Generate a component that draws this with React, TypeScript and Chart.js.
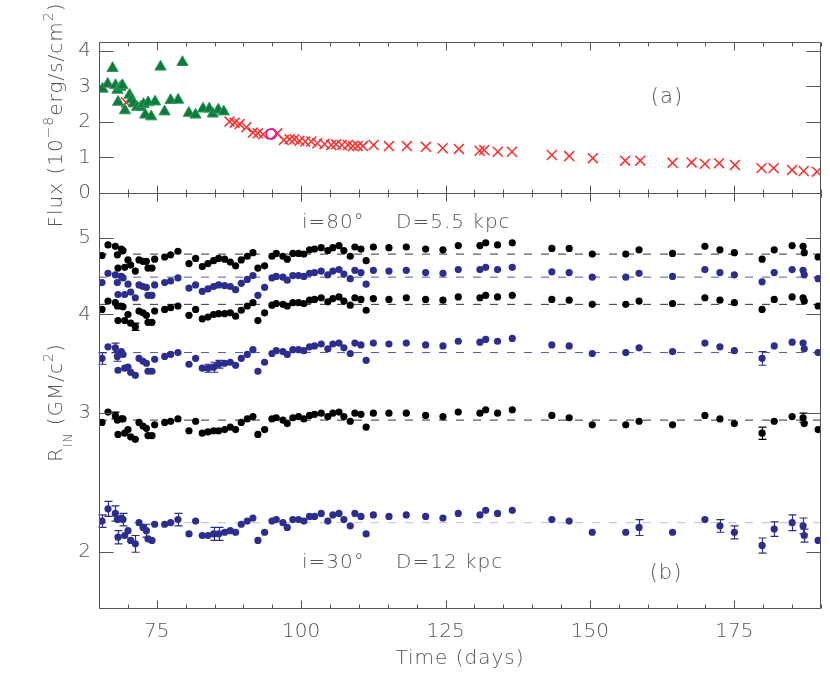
import React, { useEffect, useRef } from 'react';
import { Chart, registerables } from 'chart.js';
Chart.register(...registerables);

const FONT = "'DejaVu Sans', 'Liberation Sans', sans-serif";
const TEXT = '#555555';
const AXIS = '#555555';
const BLACK = '#000000';
const BLUE = '#2b2e8c';

// ---------- panel (a): flux ----------
const triT = [65.6, 66.5, 67.35, 67.85, 68.2, 68.3, 68.7, 69.05, 69.5, 70.3, 70.65, 71.0, 71.6, 72.2, 72.7, 73.0, 73.5, 74.05, 74.7, 75.65, 76.35, 77.4, 78.7, 79.45, 80.55, 81.7, 83.0, 84.1, 84.7, 85.65, 86.6];
const triF = [2.93, 3.07, 3.51, 3.03, 2.9, 2.56, 2.98, 3.03, 2.32, 2.76, 2.64, 2.52, 2.42, 2.42, 2.5, 2.2, 2.55, 2.15, 2.57, 3.55, 2.29, 2.61, 2.62, 3.68, 2.25, 2.2, 2.37, 2.37, 2.23, 2.34, 2.29];
const crossT = [69.7, 87.6, 88.5, 89.35, 90.5, 91.65, 92.5, 93.4, 95.85, 97.0, 98.0, 98.85, 99.7, 100.7, 101.75, 102.8, 104.05, 105.2, 106.05, 107.05, 108.1, 108.95, 109.8, 110.7, 112.55, 115.2, 118.3, 121.6, 124.5, 127.3, 130.9, 131.7, 134.05, 136.5, 143.4, 146.4, 150.5, 156.1, 158.7, 164.3, 167.6, 169.9, 172.35, 175.1, 179.7, 181.8, 185.0, 187.0, 189.3];
const crossF = [2.55, 2.01, 1.98, 1.94, 1.85, 1.70, 1.68, 1.65, 1.68, 1.49, 1.51, 1.51, 1.47, 1.45, 1.45, 1.40, 1.38, 1.35, 1.37, 1.35, 1.35, 1.32, 1.32, 1.32, 1.35, 1.32, 1.32, 1.30, 1.26, 1.24, 1.19, 1.21, 1.16, 1.16, 1.07, 1.04, 0.98, 0.91, 0.91, 0.85, 0.86, 0.82, 0.84, 0.79, 0.70, 0.70, 0.65, 0.62, 0.60];
const circT = [94.82];
const circF = [1.66];
const fluxTicks = [0, 1, 2, 3, 4];

// ---------- panel (b): inner radius ----------
const times = [65.52, 66.56, 67.83, 68.18, 68.29, 68.87, 69.16, 69.45, 70.02, 70.48, 71.29, 71.93, 72.62, 73.2, 73.48, 74.17, 74.64,
  76.37, 77.4, 78.67, 80.58, 81.73, 82.88, 83.86, 84.84, 85.71, 86.75, 87.73, 88.65, 89.63, 90.67, 91.65, 92.51, 93.67, 94.94, 95.69, 96.84, 97.59, 98.57, 99.55, 100.47, 101.45, 102.32, 103.47, 104.62, 105.49, 106.55, 107.4, 108.5, 109.3,
  110.35, 111.25, 112.5, 115.2, 118.2, 121.55, 124.55, 127.2, 130.95, 131.95, 134.0, 136.55, 143.4, 146.4, 150.4, 156.2, 158.5, 164.3, 169.9, 172.5, 175.0, 179.8, 181.9, 185.0, 186.9, 187.1, 189.5];

const row1 = [4.75, 4.90, 4.88, 4.76, 4.58, 4.84, 4.82, 4.59, 4.69, 4.62, 4.54, 4.69, 4.67, 4.67, 4.58, 4.58, 4.70,
  4.73, 4.76, 4.81, 4.64, 4.71, 4.60, 4.64, 4.68, 4.71, 4.70, 4.66, 4.61, 4.69, 4.74, 4.79, 4.58, 4.61, 4.74, 4.78, 4.74, 4.70, 4.78, 4.78, 4.77, 4.83, 4.84, 4.86, 4.82, 4.86, 4.89, 4.82, 4.74, 4.87,
  4.84, 4.68, 4.87, 4.86, 4.87, 4.84, 4.83, 4.89, 4.89, 4.93, 4.90, 4.93, 4.85, 4.85, 4.77, 4.77, 4.83, 4.78, 4.88, 4.83, 4.79, 4.70, 4.83, 4.89, 4.88, 4.79, 4.73];
const row2 = [4.39, 4.51, 4.49, 4.39, 4.24, 4.47, 4.45, 4.24, 4.37, 4.27, 4.20, 4.36, 4.34, 4.33, 4.23, 4.23, 4.36,
  4.39, 4.41, 4.45, 4.32, 4.36, 4.28, 4.31, 4.34, 4.36, 4.35, 4.34, 4.30, 4.38, 4.43, 4.48, 4.23, 4.33, 4.45, 4.47, 4.46, 4.42, 4.48, 4.48, 4.47, 4.51, 4.52, 4.54, 4.49, 4.54, 4.56, 4.50, 4.44, 4.55,
  4.52, 4.37, 4.55, 4.54, 4.55, 4.52, 4.51, 4.56, 4.56, 4.59, 4.56, 4.59, 4.53, 4.52, 4.46, 4.46, 4.51, 4.47, 4.56, 4.52, 4.49, 4.40, 4.52, 4.56, 4.55, 4.49, 4.44];
const row3 = [4.06, 4.16, 4.14, 4.10, 3.93, 4.10, 4.09, 3.93, 4.00, 3.90, 3.86, 4.04, 4.02, 3.99, 3.91, 3.91, 4.04,
  4.06, 4.08, 4.10, 3.99, 4.06, 3.95, 3.97, 4.00, 4.01, 4.01, 4.02, 3.98, 4.05, 4.10, 4.14, 3.93, 4.02, 4.11, 4.13, 4.12, 4.10, 4.14, 4.14, 4.13, 4.17, 4.18, 4.20, 4.15, 4.19, 4.21, 4.16, 4.11, 4.20,
  4.18, 4.05, 4.19, 4.18, 4.20, 4.18, 4.17, 4.21, 4.20, 4.23, 4.21, 4.23, 4.18, 4.17, 4.12, 4.12, 4.16, 4.13, 4.20, 4.17, 4.14, 4.06, 4.18, 4.21, 4.20, 4.16, 4.10];
const row4 = [3.52, 3.64, 3.63, 3.54, 3.40, 3.59, 3.56, 3.42, 3.43, 3.38, 3.35, 3.52, 3.49, 3.47, 3.39, 3.39, 3.51,
  3.54, 3.56, 3.58, 3.46, 3.52, 3.42, 3.42, 3.43, 3.46, 3.47, 3.48, 3.45, 3.52, 3.56, 3.61, 3.39, 3.48, 3.57, 3.60, 3.59, 3.56, 3.61, 3.61, 3.60, 3.64, 3.65, 3.67, 3.62, 3.67, 3.68, 3.63, 3.57, 3.68,
  3.66, 3.50, 3.68, 3.67, 3.68, 3.66, 3.65, 3.70, 3.69, 3.72, 3.70, 3.73, 3.66, 3.65, 3.57, 3.58, 3.63, 3.59, 3.68, 3.64, 3.60, 3.52, 3.65, 3.69, 3.68, 3.62, 3.58];
const row5 = [2.92, 3.01, 2.98, 2.94, 2.82, 2.95, 2.95, 2.83, 2.86, 2.80, 2.78, 2.92, 2.89, 2.87, 2.81, 2.81, 2.90,
  2.92, 2.93, 2.95, 2.85, 2.93, 2.83, 2.84, 2.85, 2.85, 2.86, 2.88, 2.86, 2.92, 2.95, 2.97, 2.82, 2.86, 2.95, 2.96, 2.94, 2.91, 2.96, 2.97, 2.95, 2.98, 2.99, 3.00, 2.97, 3.00, 3.01, 2.97, 2.93, 3.00,
  2.99, 2.88, 3.00, 3.00, 3.00, 2.98, 2.97, 3.01, 3.00, 3.03, 3.00, 3.03, 2.98, 2.96, 2.90, 2.90, 2.93, 2.90, 2.98, 2.95, 2.91, 2.83, 2.93, 2.97, 2.96, 2.91, 2.86];
const row6 = [2.19, 2.27, 2.24, 2.20, 2.09, 2.21, 2.20, 2.10, 2.13, 2.07, 2.05, 2.18, 2.15, 2.13, 2.08, 2.07, 2.17,
  2.17, 2.18, 2.20, 2.11, 2.19, 2.10, 2.10, 2.11, 2.11, 2.12, 2.13, 2.12, 2.17, 2.19, 2.21, 2.07, 2.12, 2.19, 2.20, 2.18, 2.15, 2.20, 2.20, 2.19, 2.22, 2.22, 2.24, 2.19, 2.23, 2.24, 2.20, 2.16, 2.24,
  2.22, 2.11, 2.23, 2.22, 2.23, 2.22, 2.21, 2.24, 2.23, 2.26, 2.24, 2.26, 2.20, 2.19, 2.12, 2.12, 2.15, 2.12, 2.20, 2.16, 2.12, 2.04, 2.14, 2.18, 2.16, 2.10, 2.07];
const levels = [4.77, 4.46, 4.12, 3.58, 2.94, 2.18];
// error bars: [index into times, half-size]
const err3: [number, number][] = [[10, 0.04]];
const err4: [number, number][] = [[0, 0.06], [2, 0.05], [3, 0.05], [23, 0.04], [24, 0.05], [25, 0.04], [71, 0.07]];
const err5: [number, number][] = [[2, 0.03], [71, 0.05], [74, 0.04]];
const err6: [number, number][] = [[0, 0.04], [1, 0.05], [2, 0.05], [4, 0.04], [6, 0.04], [10, 0.05], [13, 0.04], [19, 0.04], [24, 0.04], [25, 0.04],
  [66, 0.05], [69, 0.04], [70, 0.04], [71, 0.045], [72, 0.045], [73, 0.05], [74, 0.05], [75, 0.04]];
const rTicks = [2, 3, 4, 5];
const xTickLabels = [75, 100, 125, 150, 175];
const X_MIN = 65, X_MAX = 190;

const pts = (xs: number[], ys: number[]) => xs.map((x, i) => ({ x, y: ys[i] }));

type Seg = { t: string; s: number; dy: number };
function drawRich(ctx: CanvasRenderingContext2D, segs: Seg[], x: number, y: number, rot: number, align: 'left' | 'center') {
  ctx.save();
  ctx.translate(x, y);
  ctx.rotate(rot);
  ctx.fillStyle = TEXT;
  ctx.textBaseline = 'alphabetic';
  ctx.textAlign = 'left';
  (ctx as any).letterSpacing = '1px';
  let total = 0;
  const w = segs.map((g) => { ctx.font = `200 ${g.s}px ${FONT}`; const m = ctx.measureText(g.t).width; total += m; return m; });
  let cx = align === 'center' ? -total / 2 : 0;
  segs.forEach((g, i) => { ctx.font = `200 ${g.s}px ${FONT}`; ctx.fillText(g.t, cx, g.dy); cx += w[i]; });
  ctx.restore();
}
function text(ctx: CanvasRenderingContext2D, t: string, x: number, y: number, size: number, align: CanvasTextAlign) {
  ctx.save();
  ctx.fillStyle = TEXT;
  ctx.font = `200 ${size}px ${FONT}`;
  (ctx as any).letterSpacing = '1px';
  ctx.textAlign = align;
  ctx.textBaseline = 'middle';
  ctx.fillText(t, x, y);
  ctx.restore();
}

function frameTicks(chart: any, yTicks: number[]) {
  const { ctx, chartArea: a } = chart;
  const xs = chart.scales.x, ys = chart.scales.y;
  const L = Math.round(a.left) + 0.5, R = Math.round(a.right) - 0.5, T = Math.round(a.top) + 0.5, B = Math.round(a.bottom) + 0.5;
  ctx.save();
  ctx.strokeStyle = AXIS;
  ctx.lineWidth = 1;
  ctx.beginPath();
  ctx.rect(L, T, R - L, B - T);
  for (let v = X_MIN; v <= X_MAX; v += 5) {
    const major = xTickLabels.includes(v);
    const len = major ? 8 : 4;
    const p = Math.round(xs.getPixelForValue(v)) + 0.5;
    ctx.moveTo(p, T); ctx.lineTo(p, T + len);
    ctx.moveTo(p, B); ctx.lineTo(p, B - len);
  }
  for (const v of yTicks) {
    const p = Math.round(ys.getPixelForValue(v)) + 0.5;
    ctx.moveTo(L, p); ctx.lineTo(L + 14, p);
    ctx.moveTo(R, p); ctx.lineTo(R - 14, p);
  }
  ctx.stroke();
  ctx.restore();
}

const tickFont = { family: FONT, size: 20, weight: 200 as any };

function topConfig(): any {
  return {
    type: 'scatter',
    data: {
      datasets: [
        { data: pts(circT, circF), pointStyle: 'circle', pointRadius: 5, backgroundColor: 'rgba(0,0,0,0)', borderColor: '#e8189a', borderWidth: 2 },
        { data: pts(triT, triF), pointStyle: 'triangle', pointRadius: 6.5, backgroundColor: '#0b7a3b', borderColor: '#2f9a5c', borderWidth: 1 },
        { data: pts(crossT, crossF), pointStyle: 'crossRot', pointRadius: 7, borderColor: '#ff2a2a', borderWidth: 1.5 },
      ],
    },
    options: {
      animation: false, responsive: false, devicePixelRatio: 1, events: [],
      layout: { padding: { left: 0, right: 9, top: 42, bottom: 499 } },
      plugins: { legend: { display: false }, tooltip: { enabled: false } },
      scales: {
        x: { type: 'linear', display: false, min: X_MIN, max: X_MAX },
        y: {
          type: 'linear', min: 0, max: 4.25,
          afterBuildTicks: (s: any) => { s.ticks = fluxTicks.map((v) => ({ value: v })); },
          afterFit: (s: any) => { s.width = 99; },
          grid: { display: false, drawTicks: false }, border: { display: false },
          ticks: { padding: 8, color: TEXT, font: tickFont, callback: (v: any) => String(v) },
        },
      },
    },
    plugins: [{
      id: 'decorTop',
      afterDraw(chart: any) {
        frameTicks(chart, fluxTicks);
        const ctx = chart.ctx;
        drawRich(ctx, [
          { t: 'Flux (10', s: 20, dy: 0 }, { t: '\u22128', s: 14, dy: -9 }, { t: 'erg/s/cm', s: 20, dy: 0 }, { t: '2', s: 14, dy: -9 }, { t: ')', s: 20, dy: 0 },
        ], 62, 115, -Math.PI / 2, 'center');
        text(ctx, '(a)', 667, 98, 21, 'center');
      },
    }],
  };
}

function bottomConfig(): any {
  const dot = (data: number[], color: string) => ({ data: pts(times, data), pointStyle: 'circle', pointRadius: 3.6, backgroundColor: color, borderColor: color, borderWidth: 0 });
  const lvlColors = ['#333333', '#5559ad', '#333333', '#5559ad', '#333333', '#b9bce2'];
  const lines = levels.map((l, i) => ({
    data: [{ x: X_MIN, y: l }, { x: X_MAX, y: l }], showLine: true, pointRadius: 0, borderColor: lvlColors[i], borderWidth: 1, borderDash: [8, 9],
  }));
  const rows = [row1, row2, row3, row4, row5, row6];
  const rowColors = [BLACK, BLUE, BLACK, BLUE, BLACK, BLUE];
  const errs = [[], [], err3, err4, err5, err6] as [number, number][][];
  return {
    type: 'scatter',
    data: { datasets: [...rows.map((r, i) => dot(r, rowColors[i])), ...lines] },
    options: {
      animation: false, responsive: false, devicePixelRatio: 1, events: [],
      layout: { padding: { left: 0, right: 9, top: 193, bottom: 0 } },
      plugins: { legend: { display: false }, tooltip: { enabled: false } },
      scales: {
        x: {
          type: 'linear', min: X_MIN, max: X_MAX,
          afterBuildTicks: (s: any) => { s.ticks = xTickLabels.map((v) => ({ value: v })); },
          afterFit: (s: any) => { s.height = 84; },
          grid: { display: false, drawTicks: false }, border: { display: false },
          ticks: { padding: 12, color: TEXT, font: tickFont, autoSkip: false, maxRotation: 0, callback: (v: any) => String(v) },
        },
        y: {
          type: 'logarithmic', min: 1.7, max: 5.7,
          afterBuildTicks: (s: any) => { s.ticks = rTicks.map((v) => ({ value: v })); },
          afterFit: (s: any) => { s.width = 99; },
          grid: { display: false, drawTicks: false }, border: { display: false },
          ticks: { padding: 8, color: TEXT, font: tickFont, callback: (v: any) => String(v) },
        },
      },
    },
    plugins: [{
      id: 'decorBottom',
      afterDatasetsDraw(chart: any) {
        const { ctx } = chart;
        const xs = chart.scales.x, ys = chart.scales.y;
        ctx.save();
        ctx.lineWidth = 1.2;
        errs.forEach((list, r) => {
          ctx.strokeStyle = rowColors[r];
          ctx.beginPath();
          for (const [i, e] of list) {
            const v = rows[r][i];
            const px = Math.round(xs.getPixelForValue(times[i])) + 0.5;
            const y1 = ys.getPixelForValue(v + e), y2 = ys.getPixelForValue(v - e);
            ctx.moveTo(px, y1); ctx.lineTo(px, y2);
            ctx.moveTo(px - 4, y1); ctx.lineTo(px + 4, y1);
            ctx.moveTo(px - 4, y2); ctx.lineTo(px + 4, y2);
          }
          ctx.stroke();
        });
        ctx.restore();
      },
      afterDraw(chart: any) {
        frameTicks(chart, rTicks);
        const ctx = chart.ctx;
        drawRich(ctx, [
          { t: 'R', s: 20, dy: 0 }, { t: 'IN', s: 12, dy: 10 }, { t: ' (GM/c', s: 20, dy: 0 }, { t: '2', s: 14, dy: -9 }, { t: ')', s: 20, dy: 0 },
        ], 62, 462, -Math.PI / 2, 'left');
        text(ctx, 'i=80\u00b0', 302, 223, 20, 'left');
        text(ctx, 'D=5.5 kpc', 396, 223, 20, 'left');
        text(ctx, 'i=30\u00b0', 302, 563, 20, 'left');
        text(ctx, 'D=12 kpc', 396, 563, 20, 'left');
        text(ctx, '(b)', 666, 574, 21, 'center');
        text(ctx, 'Time (days)', 460, 659, 20, 'center');
      },
    }],
  };
}

export default function App() {
  const topRef = useRef<HTMLCanvasElement>(null);
  const botRef = useRef<HTMLCanvasElement>(null);
  useEffect(() => {
    document.body.style.margin = '0';
    const c1 = new Chart(topRef.current as HTMLCanvasElement, topConfig());
    const c2 = new Chart(botRef.current as HTMLCanvasElement, bottomConfig());
    return () => { c1.destroy(); c2.destroy(); };
  }, []);
  return (
    <div style={{ position: 'relative', width: 830, height: 692, background: '#ffffff' }}>
      <canvas ref={topRef} width={830} height={692} style={{ position: 'absolute', left: 0, top: 0 }} />
      <canvas ref={botRef} width={830} height={692} style={{ position: 'absolute', left: 0, top: 0 }} />
    </div>
  );
}
